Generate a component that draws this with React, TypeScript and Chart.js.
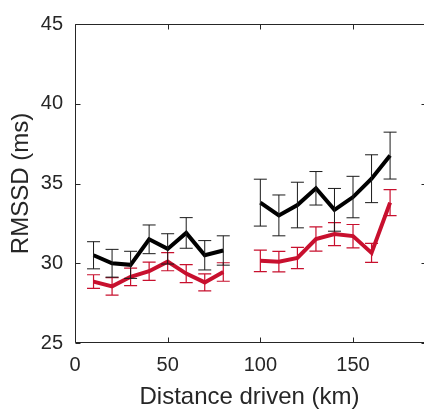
import React, { useEffect, useRef } from 'react';
import { Chart, registerables } from 'chart.js';

Chart.register(...registerables);

// Distance driven (km); 90 km has no measurement (gap in the lines)
const distanceKm = [10, 20, 30, 40, 50, 60, 70, 80, 90, 100, 110, 120, 130, 140, 150, 160, 170];
const blackMean = [30.5, 30.0, 29.9, 31.5, 30.9, 31.9, 30.5, 30.8, null, 33.8, 33.0, 33.65, 34.7, 33.35, 34.15, 35.3, 36.75];
const blackErr = [0.85, 0.87, 0.85, 0.9, 0.95, 0.96, 0.92, 0.92, null, 1.47, 1.28, 1.43, 1.05, 1.34, 1.3, 1.5, 1.47];
const redMean = [28.85, 28.55, 29.15, 29.5, 30.1, 29.35, 28.8, 29.45, null, 30.15, 30.1, 30.33, 31.52, 31.83, 31.7, 30.65, 33.8];
const redErr = [0.43, 0.55, 0.55, 0.57, 0.57, 0.56, 0.53, 0.58, null, 0.67, 0.64, 0.67, 0.76, 0.72, 0.73, 0.6, 0.82];
const xTicks = [0, 50, 100, 150];
const yTicks = [25, 30, 35, 40, 45];

const FONT = "'Liberation Sans', Arial, Helvetica, sans-serif";
const AXIS_COLOR = '#262626';
const RED = '#C8102E';

const errorBarPlugin = {
  id: 'errorBars',
  afterDatasetDraw(chart: any, args: any) {
    const ds = chart.data.datasets[args.index];
    const errs = ds.errors;
    if (!errs) return;
    const yScale = chart.scales.y;
    const ctx = chart.ctx;
    ctx.save();
    ctx.strokeStyle = ds.errorColor;
    ctx.lineWidth = ds.errorWidth;
    args.meta.data.forEach((pt: any, i: number) => {
      const d = ds.data[i];
      const e = errs[i];
      if (!d || d.y == null || e == null) return;
      const x = pt.x;
      const yTop = yScale.getPixelForValue(d.y + e);
      const yBot = yScale.getPixelForValue(d.y - e);
      const hw = 6.5;
      ctx.beginPath();
      ctx.moveTo(x, yTop);
      ctx.lineTo(x, yBot);
      ctx.moveTo(x - hw, yTop);
      ctx.lineTo(x + hw, yTop);
      ctx.moveTo(x - hw, yBot);
      ctx.lineTo(x + hw, yBot);
      ctx.stroke();
    });
    ctx.restore();
  },
};

// The axes box continues past the right edge of the picture (x limit just above 188),
// so only the inward right-hand ticks are visible there.
const boxPlugin = {
  id: 'matlabBox',
  beforeDatasetsDraw(chart: any) {
    const { ctx, chartArea } = chart;
    const { left, right, top, bottom } = chartArea;
    const xs = chart.scales.x;
    const ys = chart.scales.y;
    const tl = 5;
    ctx.save();
    ctx.strokeStyle = AXIS_COLOR;
    ctx.lineWidth = 1;
    const L = Math.round(left) + 0.5;
    const R = Math.round(right) + 2.5;
    const T = Math.round(top) + 0.5;
    const B = Math.round(bottom) - 0.5;
    ctx.beginPath();
    ctx.moveTo(R, T);
    ctx.lineTo(L, T);
    ctx.lineTo(L, B);
    ctx.lineTo(R, B);
    ctx.stroke();
    ctx.beginPath();
    xTicks.forEach((v) => {
      const x = Math.round(xs.getPixelForValue(v)) + 0.5;
      ctx.moveTo(x, B);
      ctx.lineTo(x, B - tl);
      ctx.moveTo(x, T);
      ctx.lineTo(x, T + tl);
    });
    yTicks.forEach((v) => {
      const y = Math.round(ys.getPixelForValue(v)) + 0.5;
      ctx.moveTo(L, y);
      ctx.lineTo(L + tl, y);
      ctx.moveTo(R, y);
      ctx.lineTo(R - tl, y);
    });
    ctx.stroke();
    ctx.restore();
  },
};

export default function App() {
  const canvasRef = useRef<HTMLCanvasElement | null>(null);

  useEffect(() => {
    document.body.style.margin = '0';
    const canvas = canvasRef.current;
    if (!canvas) return;
    const chart = new Chart(canvas, {
      type: 'line',
      data: {
        datasets: [
          {
            label: 'black',
            data: distanceKm.map((x, i) => ({ x, y: blackMean[i] })),
            borderColor: '#000000',
            borderWidth: 4,
            pointRadius: 0,
            tension: 0,
            spanGaps: false,
            errors: blackErr,
            errorColor: '#1a1a1a',
            errorWidth: 1,
          } as any,
          {
            label: 'red',
            data: distanceKm.map((x, i) => ({ x, y: redMean[i] })),
            borderColor: RED,
            borderWidth: 4,
            pointRadius: 0,
            tension: 0,
            spanGaps: false,
            errors: redErr,
            errorColor: RED,
            errorWidth: 1.2,
          } as any,
        ],
      },
      options: {
        animation: false,
        responsive: false,
        devicePixelRatio: 1,
        layout: { padding: { top: 15, right: 0, left: 0, bottom: 0 } },
        plugins: { legend: { display: false }, tooltip: { enabled: false } },
        scales: {
          x: {
            type: 'linear',
            min: 0,
            max: 188.3,
            grid: { display: false, drawTicks: false },
            border: { display: false },
            afterBuildTicks: (s: any) => {
              s.ticks = xTicks.map((v) => ({ value: v }));
            },
            afterFit: (s: any) => {
              s.height = 69;
            },
            ticks: {
              font: { size: 20, family: FONT },
              color: AXIS_COLOR,
              padding: 10,
              maxRotation: 0,
              autoSkip: false,
            },
            title: {
              display: true,
              text: 'Distance driven (km)',
              font: { size: 24, family: FONT },
              color: AXIS_COLOR,
              padding: { top: 0, bottom: 0 },
            },
          },
          y: {
            type: 'linear',
            min: 25,
            max: 45,
            grid: { display: false, drawTicks: false },
            border: { display: false },
            afterBuildTicks: (s: any) => {
              s.ticks = yTicks.map((v) => ({ value: v }));
            },
            afterFit: (s: any) => {
              s.width = 75;
            },
            ticks: {
              font: { size: 20, family: FONT },
              color: AXIS_COLOR,
              padding: 12,
              autoSkip: false,
            },
            title: {
              display: true,
              text: 'RMSSD (ms)',
              font: { size: 24, family: FONT },
              color: AXIS_COLOR,
              padding: { top: 7, bottom: 0 },
            },
          },
        },
      } as any,
      plugins: [boxPlugin, errorBarPlugin],
    });
    return () => chart.destroy();
  }, []);

  return (
    <div style={{ width: 424, height: 412 }}>
      <canvas ref={canvasRef} width={424} height={412} />
    </div>
  );
}
